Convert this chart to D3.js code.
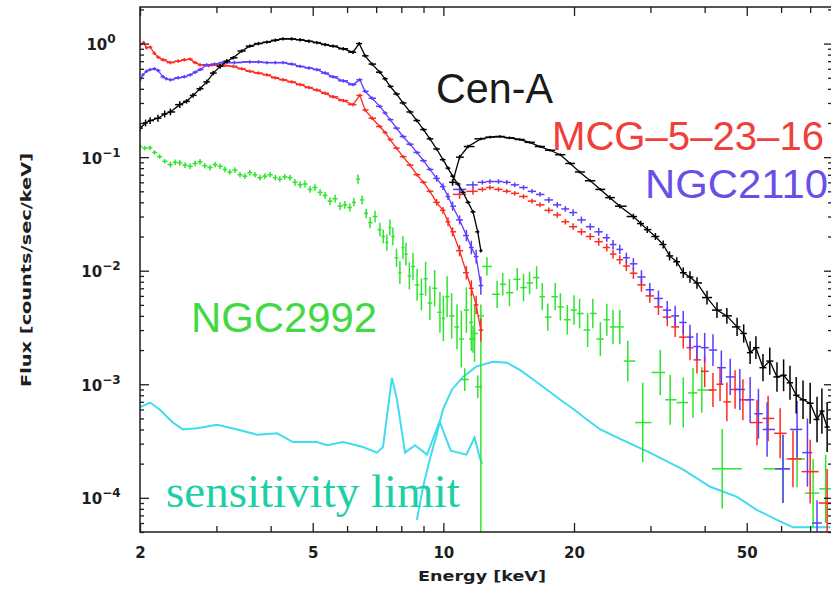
<!DOCTYPE html>
<html>
<head>
<meta charset="utf-8">
<script src="https://cdn.jsdelivr.net/npm/d3@7"></script>
<style>
  body { margin: 0; background: #fff; }
  svg { display: block; }
</style>
</head>
<body>
<div id="chart"></div>
<script>
// spectra: [energy keV, flux counts/sec/keV, optional error in dex (number or [down, up])]
const cenALow = [[2.0,0.18,0.03],[2.06,0.2,0.03],[2.11,0.21,0.03],[2.2,0.22,0.03],[2.28,0.24,0.03],[2.35,0.25,0.03],
  [2.47,0.29,0.03],[2.56,0.31,0.02],[2.65,0.35,0.02],[2.75,0.4,0.02],[2.85,0.46,0.02],[2.95,0.55,0.02],[3.06,0.63,0.02],
  [3.17,0.7,0.02],[3.28,0.75],[3.43,0.86],[3.58,0.95],[3.75,1.0],[3.92,1.03],[4.1,1.07],[4.27,1.1],[4.47,1.1],[4.68,1.08],
  [4.9,1.05],[5.11,1.02],[5.34,0.98],[5.57,0.95],[5.88,0.9],[6.19,0.84],[6.4,1.0],[6.6,0.78],[6.85,0.66],[7.14,0.56],
  [7.34,0.49],[7.54,0.42],[7.8,0.36],[8.07,0.30],[8.38,0.25],[8.69,0.21],[9.0,0.175],[9.31,0.145],[9.65,0.118],
  [9.98,0.095],[10.25,0.08],[10.5,0.068],[10.8,0.058],[11.1,0.049],[11.4,0.04],[11.7,0.033],[12.0,0.022],[12.2,0.015]];
const cenAHigh = [[10.5,0.06,0.03],[10.9,0.10,0.02],[11.4,0.124,0.015],[12.2,0.145],[12.8,0.15],[13.5,0.152],[14.2,0.148],
  [15.0,0.143],[15.8,0.135],[16.7,0.124],[17.6,0.115],[18.6,0.105],[19.6,0.088],[20.6,0.074],[21.8,0.062],[23.0,0.052],
  [24.2,0.044,0.02],[25.5,0.037,0.02],[27.4,0.030,0.025],[28.5,0.026,0.025],[29.5,0.023,0.03],[30.8,0.020,0.03],
  [32.1,0.017,0.035],[33.2,0.0135,0.04],[34.5,0.012,0.04],[35.7,0.0096,0.045],[37.0,0.0088,0.05],[38.4,0.0078,0.05],
  [40.5,0.0058,0.06],[42.7,0.0045,0.07],[45.0,0.0040,0.07],[47.5,0.0032,0.08],[49.2,0.0028,0.08],[50.9,0.0019,0.1],
  [52.5,0.0021,0.1],[54.5,0.0014,0.12],[56.5,0.0016,0.12],[58.7,0.00116,0.13],[60.8,0.0012,0.14],[62.9,0.00103,0.15],
  [65.0,0.0008,0.16],[67.4,0.00073,0.17],[70.0,0.00068,0.18],[72.6,0.00049,0.2],[74.5,0.00058,0.2],[76.6,0.00042,0.22]];

const mcgLow = [[2.0,0.98],[2.04,1.02],[2.07,0.92],[2.11,0.93],[2.16,0.82],[2.2,0.76],[2.26,0.72],[2.35,0.68],[2.45,0.70],
  [2.53,0.72],[2.61,0.73],[2.68,0.68],[2.75,0.65],[2.88,0.64],[3.01,0.65],[3.14,0.64],[3.28,0.63],[3.43,0.6],[3.58,0.57],
  [3.75,0.55],[3.92,0.53],[4.1,0.5],[4.27,0.48],[4.47,0.46],[4.68,0.435],[4.9,0.41],[5.11,0.39],[5.34,0.365],[5.57,0.34],
  [5.88,0.315],[6.19,0.29],[6.42,0.35],[6.6,0.26],[6.85,0.22],[7.14,0.186],[7.34,0.165],[7.54,0.143],[7.8,0.12],
  [8.07,0.101],[8.38,0.085],[8.69,0.07],[9.0,0.06],[9.31,0.05],[9.65,0.04,0.03],[9.98,0.034,0.03],[10.25,0.027,0.04],
  [10.5,0.022,0.04],[10.9,0.015,0.05],[11.3,0.0096,0.06],[11.6,0.007,0.07],[11.9,0.005,0.08],[12.2,0.003,0.1]];
const mcgHigh = [[10.9,0.047,0.04],[11.7,0.05,0.03],[12.3,0.052,0.02],[12.8,0.054,0.02],[13.4,0.052,0.02],[14.0,0.05,0.02],
  [14.6,0.048,0.02],[15.3,0.045,0.02],[16.0,0.041,0.02],[16.7,0.038,0.02],[17.5,0.034,0.025],[18.3,0.031,0.025],
  [19.1,0.027,0.025],[19.9,0.0244,0.03],[20.8,0.022,0.03],[21.8,0.020,0.03],[22.8,0.018,0.035],[23.8,0.016,0.035],
  [24.6,0.014,0.04],[25.5,0.0125,0.04],[26.4,0.011,0.045],[27.4,0.0095,0.05],[28.6,0.0075,0.06],[29.9,0.006,0.06],
  [31.3,0.0048,0.07],[32.8,0.0039,0.08],[34.2,0.0032,0.09],[35.7,0.0026,0.1],[37.0,0.0021,0.11],[38.4,0.00164,0.12],
  [40.0,0.0013,0.14],[41.8,0.00089,0.15],[43.4,0.001,0.15],[45.0,0.0007,0.17],[47.0,0.0009,0.17],[49.0,0.00073,0.18],
  [52.8,0.00046,0.2],[56.0,0.0005,0.2],[59.7,0.00037,0.22],[63.9,0.00022,0.25],[70.0,0.00017,0.28],[76.6,0.00009,0.3]];

const ngc2110Low = [[2.0,0.48],[2.03,0.53],[2.07,0.57],[2.11,0.59],[2.16,0.6],[2.2,0.58],[2.26,0.51],[2.3,0.49],[2.35,0.48],
  [2.45,0.50],[2.53,0.51],[2.61,0.53],[2.68,0.56],[2.75,0.59],[2.85,0.65],[2.97,0.66],[3.1,0.68],[3.3,0.68],[3.58,0.69],
  [3.75,0.69],[3.92,0.68],[4.1,0.68],[4.27,0.68],[4.47,0.66],[4.68,0.63],[4.9,0.61],[5.11,0.59],[5.34,0.55],[5.57,0.51],
  [5.88,0.47],[6.19,0.435],[6.42,0.48],[6.6,0.38],[6.85,0.33],[7.14,0.28],[7.34,0.245],[7.54,0.214],[7.8,0.18],
  [8.07,0.152],[8.38,0.13],[8.69,0.11],[9.0,0.093],[9.31,0.078],[9.65,0.065,0.03],[9.98,0.055,0.03],[10.25,0.045,0.03],
  [10.5,0.037,0.04],[10.9,0.028,0.04],[11.3,0.0204,0.05],[11.6,0.016,0.06],[11.9,0.0133,0.06],[12.2,0.0074,0.08]];
const ngc2110High = [[10.9,0.052,0.04],[11.7,0.057,0.03],[12.3,0.06,0.02],[12.8,0.061,0.02],[13.4,0.061,0.02],[14.0,0.06,0.02],
  [14.6,0.057,0.02],[15.3,0.054,0.02],[16.0,0.05,0.02],[16.7,0.047,0.02],[17.5,0.042,0.025],[18.3,0.038,0.025],
  [19.1,0.035,0.025],[19.9,0.0325,0.03],[20.8,0.028,0.03],[21.8,0.0244,0.03],[22.8,0.022,0.035],[23.8,0.0195,0.035],
  [24.6,0.017,0.04],[25.5,0.0154,0.04],[26.4,0.013,0.045],[27.4,0.0115,0.05],[28.6,0.0088,0.06],[29.9,0.0068,0.06],
  [31.3,0.0057,0.07],[32.8,0.0045,0.08],[34.2,0.004,0.09],[35.7,0.0035,0.1],[37.0,0.0026,0.11],[38.4,0.00215,0.12],
  [40.0,0.0021,0.13],[41.8,0.002,0.14],[43.7,0.0014,0.15],[45.8,0.00116,0.16],[48.2,0.0009,0.18],[50.9,0.00073,0.2],
  [53.2,0.00055,0.22],[55.7,0.0004,0.24],[60.6,0.00018,0.3],[65.3,0.0004,0.25],[69.0,0.00025,0.3],[72.6,0.00006,0.2]];

const ngc2992Low = [[2.0,0.124,0.02],[2.05,0.12,0.02],[2.11,0.121,0.02],[2.16,0.11,0.02],[2.22,0.101,0.02],[2.28,0.092,0.02],
  [2.35,0.086,0.025],[2.41,0.09,0.025],[2.47,0.089,0.025],[2.54,0.085,0.025],[2.61,0.083,0.025],[2.68,0.088,0.025],
  [2.75,0.091,0.025],[2.82,0.084,0.025],[2.90,0.081,0.025],[2.98,0.086,0.025],[3.06,0.083,0.025],[3.14,0.078,0.025],
  [3.22,0.074,0.025],[3.31,0.077,0.025],[3.40,0.07,0.025],[3.49,0.068,0.025],[3.58,0.073,0.025],[3.68,0.07,0.025],
  [3.78,0.066,0.025],[3.88,0.068,0.025],[3.99,0.07,0.025],[4.1,0.066,0.025],[4.20,0.064,0.025],[4.31,0.067,0.025],
  [4.43,0.066,0.025],[4.55,0.06,0.03],[4.68,0.057,0.03],[4.8,0.058,0.03],[4.93,0.052,0.03],[5.06,0.054,0.03],
  [5.20,0.049,0.03],[5.34,0.046,0.03],[5.48,0.041,0.035],[5.63,0.043,0.035],[5.78,0.037,0.035],[5.93,0.038,0.035],
  [6.09,0.036,0.035],[6.22,0.04,0.035],[6.36,0.064,0.04],[6.5,0.042,0.04],[6.64,0.032,0.04],[6.78,0.0265,0.05],
  [6.96,0.03,0.05],[7.14,0.023,0.06],[7.27,0.02,0.06],[7.41,0.0177,0.07],[7.53,0.024,0.07],[7.65,0.02,0.08],
  [7.8,0.013,0.08],[7.94,0.0096,0.1],[8.07,0.016,0.1],[8.2,0.014,0.1],[8.35,0.009,0.12],[8.51,0.0109,0.12],
  [8.7,0.0075,0.14],[8.9,0.0062,0.14],[9.1,0.0085,0.15],[9.31,0.0052,0.15],[9.55,0.007,0.16],[9.82,0.0043,0.18],
  [10.0,0.0038,0.2],[10.2,0.0059,0.18],[10.45,0.004,0.2],[10.75,0.0032,0.2],[11.0,0.0025,0.25],[11.3,0.0045,0.2],
  [11.6,0.0035,0.25],[11.8,0.0028,0.25],[12.2,0.004,[3,0.1]]];
const ngc2992High = [[11.2,0.0011,0.1],[11.7,0.0025,0.12],[12.0,0.00095,0.1],[12.6,0.0109,0.08],[13.3,0.0062,0.12],
  [13.7,0.0076,0.1],[14.2,0.0064,0.12],[14.8,0.0084,0.1],[15.3,0.0071,0.12],[15.8,0.0078,0.1],[16.4,0.0087,0.1],
  [16.9,0.0059,0.12],[17.4,0.0039,0.12],[18.1,0.0059,0.12],[18.6,0.0048,0.12],[19.3,0.0037,0.13],[20.0,0.0045,0.13],
  [20.6,0.0042,0.13],[21.5,0.003,0.15],[22.1,0.0042,0.13],[23.0,0.0025,0.15],[23.8,0.0037,0.14],[24.6,0.0032,0.15],
  [25.5,0.0032,0.15],[26.6,0.0016,0.18],[28.8,0.00046,0.35],[31.6,0.00127,0.2],[33.3,0.00073,0.22],[35.7,0.00069,0.22],
  [37.6,0.00084,0.22],[39.4,0.00089,0.2],[43.9,0.00018,0.35],[60.6,0.00018,0.3],[65.3,0.00022,0.25],[71.1,0.00011,0.3],
  [76.0,0.00012,0.3]];

// sensitivity limits (two instruments)
const sensSoft = [[2.0,0.00063],[2.11,0.00069],[2.22,0.0006],[2.38,0.00046],[2.51,0.0004],[2.71,0.00041],[3.01,0.00044],
  [3.35,0.0004],[3.72,0.00036],[4.14,0.00037],[4.5,0.00031],[5.11,0.00031],[5.4,0.00029],[5.87,0.00031],[6.53,0.00028],
  [7.03,0.00025],[7.26,0.00028],[7.61,0.00114],[7.82,0.00073],[8.16,0.00025],[8.6,0.00029],[9.17,0.00024],[9.8,0.00047],
  [10.4,0.00026],[11.3,0.00024],[11.8,0.00034],[12.15,0.00022],[12.3,0.0002]];
const sensHard = [[8.69,0.000064],[8.98,0.000125],[9.31,0.00022],[9.67,0.00037],[9.98,0.0006],[10.47,0.0009],[11.1,0.00116],
  [11.9,0.00143],[13.0,0.00158],[14.0,0.00155],[15.0,0.00134],[16.1,0.0011],[17.3,0.0009],[18.6,0.00073],[20.0,0.0006],
  [21.4,0.00049],[23.0,0.0004],[25.1,0.00034],[29.9,0.00025],[35.7,0.000177],[41.2,0.000125],[47.5,0.000102],
  [52.8,0.000078],[58.7,0.000064],[63.9,0.000055],[72.6,0.000055],[78,0.000055]];

const xTickLabels = [2, 5, 10, 20, 50];
const yTickLabels = [1e-4, 1e-3, 1e-2, 1e-1, 1];

// Setup
const width = 831;
const height = 590;
const plotLeft = 140, plotRight = 832, plotTop = 7, plotBottom = 532;
const frameRight = 834;   // right border sits just outside the picture
const ink = "#1e1e1e";

const svg = d3.select("#chart")
              .append("svg")
              .attr("width", width)
              .attr("height", height);

const x = d3.scaleLog().domain([2, 78.6]).range([plotLeft, plotRight]);
const y = d3.scaleLog().domain([5e-5, 2.1]).range([plotBottom, plotTop]);

svg.append("clipPath").attr("id", "clip")
   .append("rect").attr("x", plotLeft).attr("y", plotTop)
   .attr("width", frameRight - plotLeft).attr("height", plotBottom - plotTop);

const plot = svg.append("g").attr("clip-path", "url(#clip)");

function drawCurve(data, color) {
  plot.append("path")
      .datum(data)
      .attr("d", d3.line().x(d => x(d[0])).y(d => y(d[1])))
      .attr("fill", "none")
      .attr("stroke", color)
      .attr("stroke-width", 2);
}

// crosses: horizontal bar = bin width (half way to neighbours), vertical bar = error
function drawSpectrum(data, color, defErr, withLine) {
  const lx = data.map(d => Math.log10(d[0]));
  const marks = data.map((d, i) => {
    let hl = i > 0 ? (lx[i] - lx[i - 1]) / 2 : (lx[i + 1] - lx[i]) / 2;
    let hr = i < data.length - 1 ? (lx[i + 1] - lx[i]) / 2 : hl;
    hl = Math.min(hl, 0.045);
    hr = Math.min(hr, 0.045);
    const e = d[2] === undefined ? defErr : d[2];
    const [dn, up] = Array.isArray(e) ? e : [e, e];
    const ly = Math.log10(d[1]);
    return {e: d[0], f: d[1], lo: 10 ** (lx[i] - hl), hi: 10 ** (lx[i] + hr),
            fLo: 10 ** (ly - dn), fHi: 10 ** (ly + up)};
  });

  const g = plot.append("g")
                .attr("stroke", color)
                .attr("stroke-width", 1.5);

  if (withLine) {
    g.append("path")
     .datum(data)
     .attr("d", d3.line().x(d => x(d[0])).y(d => y(d[1])))
     .attr("fill", "none")
     .attr("stroke-width", 1.3);
  }

  g.selectAll("line.h")
   .data(marks)
   .enter().append("line")
     .attr("class", "h")
     .attr("x1", d => x(d.lo)).attr("x2", d => x(d.hi))
     .attr("y1", d => y(d.f)).attr("y2", d => y(d.f));

  g.selectAll("line.v")
   .data(marks)
   .enter().append("line")
     .attr("class", "v")
     .attr("x1", d => x(d.e)).attr("x2", d => x(d.e))
     .attr("y1", d => y(d.fLo)).attr("y2", d => y(d.fHi));
}

drawCurve(sensSoft, "#3fdcf0");
drawCurve(sensHard, "#3fdcf0");

drawSpectrum(ngc2992Low, "#2fe42f", 0.02, false);
drawSpectrum(ngc2992High, "#2fe42f", 0.1, false);
drawSpectrum(mcgLow, "#ff2a1e", 0.015, true);
drawSpectrum(mcgHigh, "#ff2a1e", 0.02, false);
drawSpectrum(ngc2110Low, "#5b3cff", 0.015, true);
drawSpectrum(ngc2110High, "#5b3cff", 0.02, false);
drawSpectrum(cenALow, "#000", 0.015, true);
drawSpectrum(cenAHigh, "#000", 0.012, true);

// Axes: ticks drawn inward on all four sides
const xMinor = x.ticks().filter(v => !xTickLabels.includes(v));
const yMinor = y.ticks().filter(v => !yTickLabels.includes(v));

function styleAxis(g) {
  g.select(".domain").remove();
  g.selectAll(".tick line").attr("stroke", ink).attr("stroke-width", 1.3);
}

svg.append("g")
   .attr("transform", `translate(0,${plotBottom})`)
   .call(d3.axisBottom(x).tickValues(xTickLabels).tickSize(-9).tickPadding(15).tickFormat(d3.format("d")))
   .call(styleAxis)
   .call(g => g.selectAll("text")
               .attr("fill", ink)
               .style("font", "bold 15px 'DejaVu Sans'"));
svg.append("g")
   .attr("transform", `translate(0,${plotBottom})`)
   .call(d3.axisBottom(x).tickValues(xMinor).tickSize(-6).tickFormat(""))
   .call(styleAxis);
svg.append("g")
   .attr("transform", `translate(0,${plotTop})`)
   .call(d3.axisTop(x).tickValues(xTickLabels).tickSize(-9).tickFormat(""))
   .call(styleAxis);
svg.append("g")
   .attr("transform", `translate(0,${plotTop})`)
   .call(d3.axisTop(x).tickValues(xMinor).tickSize(-6).tickFormat(""))
   .call(styleAxis);

svg.append("g")
   .attr("transform", `translate(${plotLeft},0)`)
   .call(d3.axisLeft(y).tickValues(yTickLabels).tickSize(-9).tickFormat(""))
   .call(styleAxis)
   .call(g => {
     const t = g.selectAll(".tick").append("text")
                .attr("x", -39).attr("y", 6)
                .attr("text-anchor", "middle")
                .attr("fill", ink)
                .style("font", "bold 15px 'DejaVu Sans'");
     t.append("tspan").text("10");
     t.append("tspan")
      .attr("dy", -7)
      .style("font-size", "12px")
      .text(d => { const p = Math.round(Math.log10(d)); return p < 0 ? "\u2212" + (-p) : String(p); });
   });
svg.append("g")
   .attr("transform", `translate(${plotLeft},0)`)
   .call(d3.axisLeft(y).tickValues(yMinor).tickSize(-4).tickFormat(""))
   .call(styleAxis);
svg.append("g")
   .attr("transform", `translate(${frameRight},0)`)
   .call(d3.axisRight(y).tickValues(yTickLabels).tickSize(-10).tickFormat(""))
   .call(styleAxis);
svg.append("g")
   .attr("transform", `translate(${frameRight},0)`)
   .call(d3.axisRight(y).tickValues(yMinor).tickSize(-6).tickFormat(""))
   .call(styleAxis);

// frame
svg.append("rect")
   .attr("x", plotLeft).attr("y", plotTop)
   .attr("width", frameRight - plotLeft).attr("height", plotBottom - plotTop)
   .attr("fill", "none")
   .attr("stroke", ink)
   .attr("stroke-width", 1.5);

// axis titles
svg.append("text")
   .attr("x", 482).attr("y", 581)
   .attr("text-anchor", "middle")
   .attr("textLength", 128).attr("lengthAdjust", "spacingAndGlyphs")
   .attr("fill", ink)
   .style("font", "bold 14px 'DejaVu Sans'")
   .text("Energy [keV]");
svg.append("text")
   .attr("transform", "translate(31,270) rotate(-90)")
   .attr("text-anchor", "middle")
   .attr("textLength", 234).attr("lengthAdjust", "spacingAndGlyphs")
   .attr("fill", ink)
   .style("font", "bold 14px 'DejaVu Sans'")
   .text("Flux [counts/sec/keV]");

// source labels
const labels = [
  {text: "Cen-A", x: 436, y: 103, size: 42, len: 117, color: "#1a1a1a"},
  {text: "MCG\u20135\u201323\u201316", x: 552, y: 150, size: 40, len: 272, color: "#f0403a"},
  {text: "NGC2110", x: 645, y: 198, size: 41, len: 183, color: "#6a4ee8"},
  {text: "NGC2992", x: 191, y: 332, size: 42, len: 186, color: "#42d842"}
];
svg.append("g")
   .selectAll("text")
   .data(labels)
   .enter().append("text")
     .attr("x", d => d.x).attr("y", d => d.y)
     .attr("textLength", d => d.len).attr("lengthAdjust", "spacingAndGlyphs")
     .attr("fill", d => d.color)
     .style("font-family", "'Liberation Sans', Arial, sans-serif")
     .style("font-size", d => d.size + "px")
     .text(d => d.text);

svg.append("text")
   .attr("x", 166).attr("y", 507)
   .attr("fill", "#1ccfa6")
   .style("font", "47px 'Liberation Serif', 'Times New Roman', serif")
   .text("sensitivity limit");
</script>
</body>
</html>
